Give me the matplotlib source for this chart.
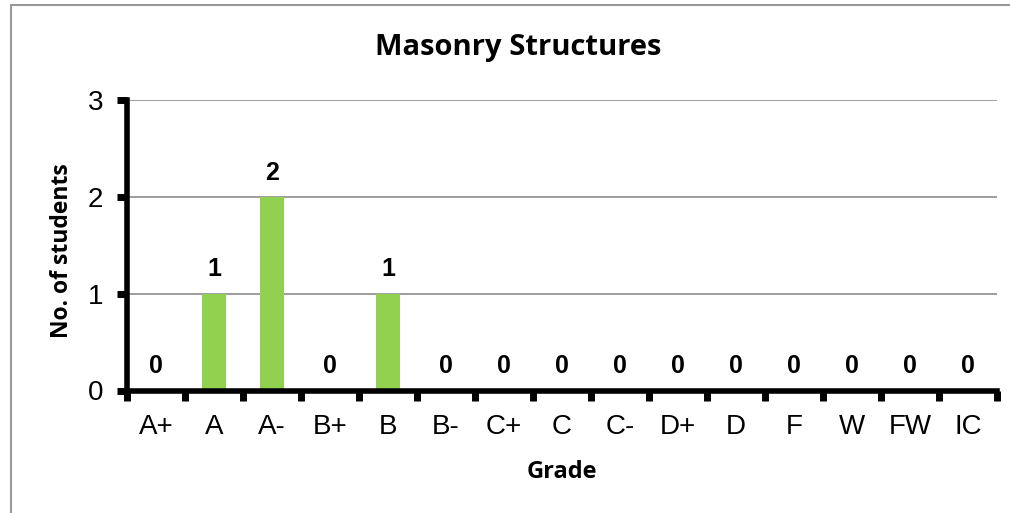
import matplotlib
matplotlib.use("Agg")
import matplotlib.pyplot as plt
from matplotlib.patches import Rectangle

grades = ["A+", "A", "A-", "B+", "B", "B-", "C+", "C", "C-", "D+", "D", "F", "W", "FW", "IC"]
students = [0, 1, 2, 0, 1, 0, 0, 0, 0, 0, 0, 0, 0, 0, 0]
yticks = [0, 1, 2, 3]

W, H = 1010, 513
fig = plt.figure(figsize=(W / 100, H / 100), dpi=100)
ax = fig.add_axes([127 / W, 1 - 390.5 / H, (997 - 127) / W, (390.5 - 100) / H])

x = list(range(len(grades)))
ax.bar(x, students, width=0.4, color="#92D050", zorder=3)
ax.set_xlim(-0.5, len(grades) - 0.5)
ax.set_ylim(0, 3)

for xi, v in zip(x, students):
    ax.annotate(str(v), (xi, v), xytext=(0, 17.5), textcoords="offset points",
                ha="center", va="center", fontsize=18, fontweight="bold",
                family="Liberation Sans", zorder=4)

ax.set_yticks(yticks)
ax.set_yticklabels([str(t) for t in yticks], fontsize=20, family="Liberation Sans")
ax.set_xticks([i - 0.5 for i in range(len(grades) + 1)])
ax.set_xticklabels([])
ax.set_xticks(x, minor=True)
ax.set_xticklabels(grades, minor=True, fontsize=20, family="Liberation Sans")
ax.tick_params(axis="x", which="minor", length=0, pad=17)
ax.tick_params(axis="x", which="major", length=7, width=5, direction="out")
ax.tick_params(axis="y", length=7, width=5, direction="out", pad=10)

ax.grid(axis="y", color="#8c8c8c", linewidth=1.2, zorder=0)
for s in ["top", "right"]:
    ax.spines[s].set_visible(False)
for s in ["left", "bottom"]:
    ax.spines[s].set_linewidth(4)
    ax.spines[s].set_zorder(5)

ax.set_ylabel("No. of students", fontsize=16.5, fontweight="bold", family="Open Sans",
              va="center")
ax.yaxis.set_label_coords(-0.0747, 0.48)
ax.set_xlabel("Grade", fontsize=17, fontweight="bold", family="Open Sans", labelpad=14)

fig.text(518 / W, 1 - 48 / H, "Masonry Structures", ha="center", va="center",
         fontsize=21, fontweight="bold", family="Open Sans")

fig.patches.append(Rectangle((11 / W, -0.1), 1.2, 1 - 5 / H + 0.1, transform=fig.transFigure,
                             fill=False, edgecolor="#999999", linewidth=1.5))

fig.savefig("out.png", dpi=100)
